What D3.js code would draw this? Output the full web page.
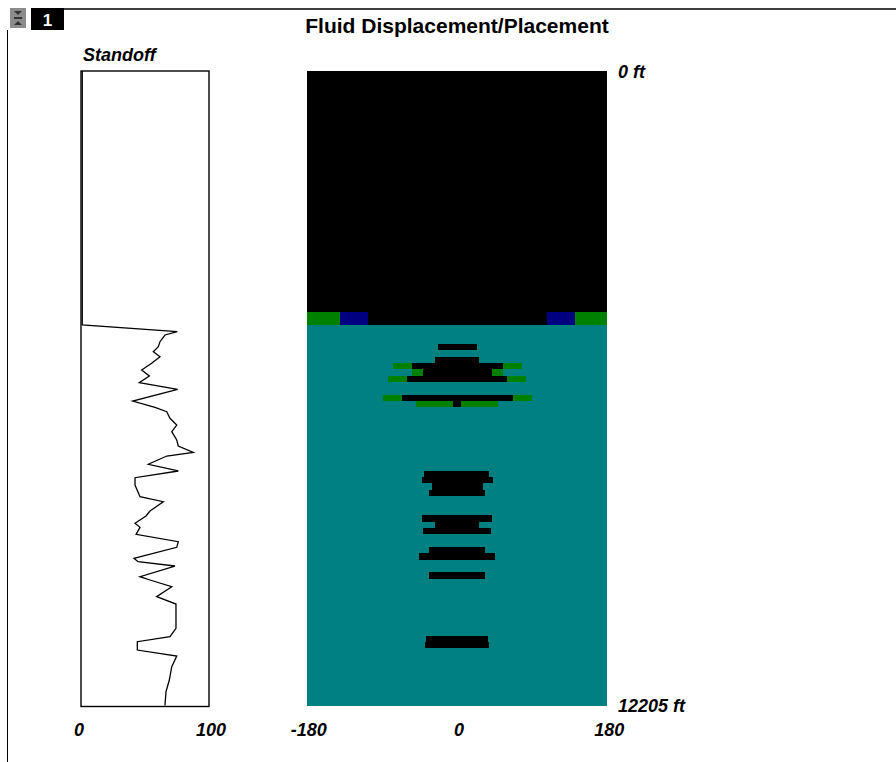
<!DOCTYPE html>
<html>
<head>
<meta charset="utf-8">
<script src="https://cdn.jsdelivr.net/npm/d3@7/dist/d3.min.js"></script>
<style>
  html, body { margin: 0; padding: 0; background: #fff; }
  svg { display: block; }
  text { font-family: "Liberation Sans", Arial, sans-serif; }
</style>
</head>
<body>
<svg id="chart" width="896" height="762"></svg>
<script>
// Well depth range (ft) and axis labels
const depthRange = [0, 12205];
const depthLabels = ["0 ft", "12205 ft"];
const angleRange = [-180, 180];
const angleTicks = [-180, 0, 180];
const standoffRange = [0, 100];
const standoffTicks = [0, 100];

// Fluid types and their display colours
const fluidNames = ["Mud", "Spacer", "Wash", "Cement"];
const fluidColors = ["#000000", "#008000", "#000080", "#008080"];

// Annulus cells: [top ft, bottom ft, from deg, to deg]
const cementCells = [
  [4638, 12205, -180, 180]
];
const mudCells = [
  [0, 4638, -180, 180],
  [4638, 4882, -107, 108],
  [5248, 5370, -23, 23.5],
  [5492, 5614, -26.5, 26.5],
  [5614, 5736, -54.3, 54.6],
  [5736, 5858, -40.4, 41.5],
  [5858, 5980, -59.5, 60.2],
  [6225, 6347, -66.2, 66.8],
  [6347, 6469, -4.4, 4.8],
  [7689, 7811, -39.2, 38.7],
  [7811, 7933, -42.3, 42.8],
  [7933, 8055, -30.3, 30.8],
  [8055, 8177, -33.5, 33.9],
  [8544, 8666, -42.5, 42.5],
  [8666, 8788, -26.5, 26.5],
  [8788, 8910, -40.5, 40.5],
  [9154, 9276, -33.8, 33.8],
  [9276, 9398, -45.7, 45.7],
  [9642, 9764, -33.8, 33.8],
  [10862, 10985, -36.9, 36.9],
  [10985, 11107, -38.9, 38.9]
];
const spacerCells = [
  [4638, 4882, -180, -140], [4638, 4882, 141, 180],
  [5614, 5736, -76.3, -54.3], [5614, 5736, 54.6, 77.4],
  [5736, 5858, -54.3, -40.4], [5736, 5858, 41.5, 55.4],
  [5858, 5980, -82.3, -59.5], [5858, 5980, 60.2, 82.6],
  [6225, 6347, -88.3, -66.2], [6225, 6347, 66.8, 89.5],
  [6347, 6469, -49.1, -4.4], [6347, 6469, 4.8, 49.5]
];
const washCells = [
  [4638, 4882, -140, -107], [4638, 4882, 108, 141]
];

// Standoff log (%)
const standoffDepth = [0, 4886, 5015, 5078, 5207, 5303, 5400, 5496, 5623, 5752, 5867, 5996, 6123, 6348, 6469, 6554, 6681, 6810, 6938, 7098, 7214, 7335, 7406, 7565, 7694, 7823, 7964, 8189, 8285, 8464, 8560, 8700, 8777, 8912, 9054, 9162, 9374, 9439, 9522, 9728, 9791, 9920, 10112, 10253, 10720, 10882, 10978, 11138, 11253, 11459, 11715, 11940, 12205];
const standoffValue = [1, 1, 75.2, 65.6, 61.7, 60.4, 56.5, 61.7, 55.2, 47.4, 53.4, 45.5, 75.5, 40.4, 57.8, 67, 69.5, 74.8, 70.9, 74.8, 76, 87.7, 67, 52.6, 76, 42.2, 42.2, 46.1, 64.3, 53.9, 50.8, 42.2, 46.1, 43, 76, 74.8, 41.4, 44.5, 73.4, 46.1, 53.9, 70.9, 59.1, 74.2, 74.2, 69.5, 44, 44, 74.8, 70.9, 69, 66.4, 65.6];

const svg = d3.select("#chart");

// Scales
const y = d3.scaleLinear().domain(depthRange).range([71, 705.5]);
const xAngle = d3.scaleLinear().domain(angleRange).range([306.7, 607.3]);
const xStand = d3.scaleLinear().domain(standoffRange).range([81, 209]);

// Window frame and header tab
svg.append("line").attr("x1", 64).attr("x2", 896).attr("y1", 9).attr("y2", 9)
  .attr("stroke", "#000").attr("stroke-width", 1.5);
svg.append("line").attr("x1", 7.5).attr("x2", 7.5).attr("y1", 30).attr("y2", 762)
  .attr("stroke", "#000").attr("stroke-width", 1);
const icon = svg.append("g");
icon.append("rect").attr("x", 10).attr("y", 8).attr("width", 16).attr("height", 20).attr("fill", "#8c8c8c");
icon.append("path").attr("d", "M14,11 h8 l-4,4 z").attr("fill", "#333");
icon.append("rect").attr("x", 14).attr("y", 17).attr("width", 8).attr("height", 2).attr("fill", "#333");
icon.append("path").attr("d", "M14,25 h8 l-4,-4 z").attr("fill", "#333");
svg.append("rect").attr("x", 31).attr("y", 8).attr("width", 33).attr("height", 22).attr("fill", "#000");
svg.append("text").attr("x", 47.5).attr("y", 26).attr("text-anchor", "middle")
  .attr("fill", "#fff").attr("font-weight", "bold").attr("font-size", 17).text("1");

// Title
svg.append("text").attr("x", 457).attr("y", 33).attr("text-anchor", "middle")
  .attr("font-weight", "bold").attr("font-size", 21).text("Fluid Displacement/Placement");

// Fluid placement map
const layers = [
  { cells: cementCells, fluid: 3 },
  { cells: mudCells, fluid: 0 },
  { cells: spacerCells, fluid: 1 },
  { cells: washCells, fluid: 2 }
];
const map = svg.append("g").attr("shape-rendering", "crispEdges");
layers.forEach(layer => {
  map.selectAll(null).data(layer.cells).enter().append("rect")
    .attr("class", fluidNames[layer.fluid].toLowerCase())
    .attr("x", d => xAngle(d[2]))
    .attr("y", d => y(d[0]))
    .attr("width", d => xAngle(d[3]) - xAngle(d[2]))
    .attr("height", d => y(d[1]) - y(d[0]))
    .attr("fill", fluidColors[layer.fluid]);
});

// Standoff track
svg.append("rect").attr("x", xStand(0)).attr("y", y(0))
  .attr("width", xStand(100) - xStand(0)).attr("height", y(12205) - y(0) + 1)
  .attr("fill", "none").attr("stroke", "#000").attr("stroke-width", 1.4);
const line = d3.line().x(d => xStand(d[1])).y(d => y(d[0]));
svg.append("path").datum(d3.zip(standoffDepth, standoffValue))
  .attr("d", line).attr("fill", "none").attr("stroke", "#000").attr("stroke-width", 1.3);

svg.append("text").attr("x", 83).attr("y", 61)
  .attr("font-weight", "bold").attr("font-style", "italic").attr("font-size", 18).text("Standoff");

// Axis labels (italic glyphs nudged to sit centred under each tick)
const labelFont = sel => sel.attr("font-weight", "bold").attr("font-style", "italic").attr("font-size", 18);
svg.selectAll(".sTick").data(standoffTicks).enter().append("text")
  .attr("class", "sTick").attr("x", d => xStand(d) + (d === 0 ? -2 : 2)).attr("y", 736)
  .attr("text-anchor", "middle").call(labelFont).text(d => d);
svg.selectAll(".aTick").data(angleTicks).enter().append("text")
  .attr("class", "aTick").attr("x", d => xAngle(d) + 2).attr("y", 736)
  .attr("text-anchor", "middle").call(labelFont).text(d => d);
svg.selectAll(".dTick").data(depthRange).enter().append("text")
  .attr("class", "dTick").attr("x", 618).attr("y", d => y(d) + 6.5)
  .call(labelFont).text((d, i) => depthLabels[i]);
</script>
</body>
</html>
